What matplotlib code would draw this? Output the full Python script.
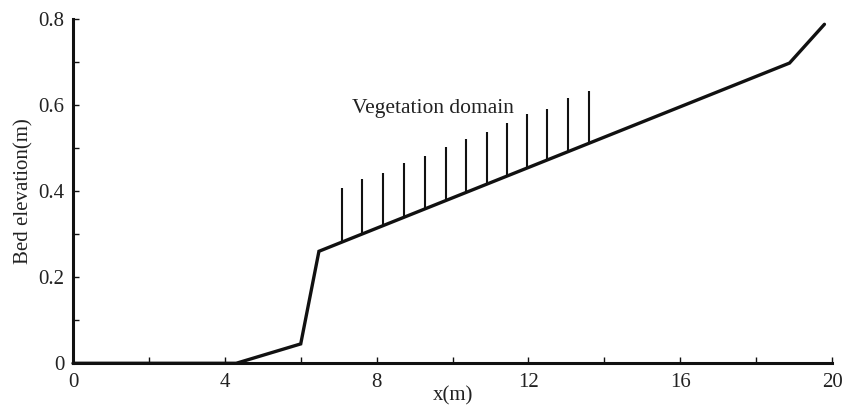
import numpy as np
import matplotlib
matplotlib.use("Agg")
import matplotlib.pyplot as plt

# bed profile (m)
bed_x = [0.0, 4.3, 6.0, 6.48, 18.88, 19.8]
bed_z = [0.0, 0.0, 0.045, 0.26, 0.697, 0.787]

# vegetation stems: position and top elevation (m)
stem_x = [7.10, 7.62, 8.18, 8.72, 9.27, 9.82, 10.35, 10.90, 11.44, 11.97, 12.50, 13.05, 13.60]
stem_top = [0.406, 0.427, 0.441, 0.464, 0.482, 0.503, 0.520, 0.536, 0.557, 0.578, 0.590, 0.615, 0.633]

# ticks
x_ticks = [0, 4, 8, 12, 16, 20]
x_minor = [2, 6, 10, 14, 18]
y_ticks = [0, 0.2, 0.4, 0.6, 0.8]
y_minor = [0.1, 0.3, 0.5, 0.7]
x_labels = ["0", "4", "8", "12", "16", "20"]
y_labels = ["0", "0.2", "0.4", "0.6", "0.8"]

#==============================================================================

plt.rcParams["font.family"] = ["Liberation Serif", "DejaVu Serif"]
plt.rcParams["font.size"] = 15

fig = plt.figure(figsize=(8.56, 4.08), dpi=100)
ax = fig.add_axes([0.0853, 0.1096, 0.8867, 0.8446])

ax.plot(bed_x, bed_z, color="#111111", lw=2.4, solid_capstyle="round",
        solid_joinstyle="miter", clip_on=False, zorder=3)

stem_bot = np.interp(stem_x, bed_x, bed_z)
ax.vlines(stem_x, stem_bot, stem_top, color="#111111", lw=1.5)

ax.text(7.34, 0.592, "Vegetation domain", fontsize=15.5, va="center", ha="left",
        color="#222222")

ax.set_xlim(0, 20)
ax.set_ylim(0, 0.8)
ax.set_xticks(x_ticks, x_labels)
ax.set_xticks(x_minor, minor=True)
ax.set_yticks(y_ticks, y_labels)
ax.set_yticks(y_minor, minor=True)

for s in ["top", "right"]:
    ax.spines[s].set_visible(False)
for s in ["left", "bottom"]:
    ax.spines[s].set_linewidth(2.2)
    ax.spines[s].set_color("#111111")

ax.tick_params(which="both", direction="in", length=4, width=1, colors="#111111",
               labelcolor="#222222")
ax.tick_params(axis="x", pad=7)
ax.tick_params(axis="y", pad=6)

ax.set_xlabel("x(m)", labelpad=-4, color="#222222")
ax.set_ylabel("Bed elevation(m)", labelpad=4, color="#222222")

fig.savefig("out.png", dpi=100)
